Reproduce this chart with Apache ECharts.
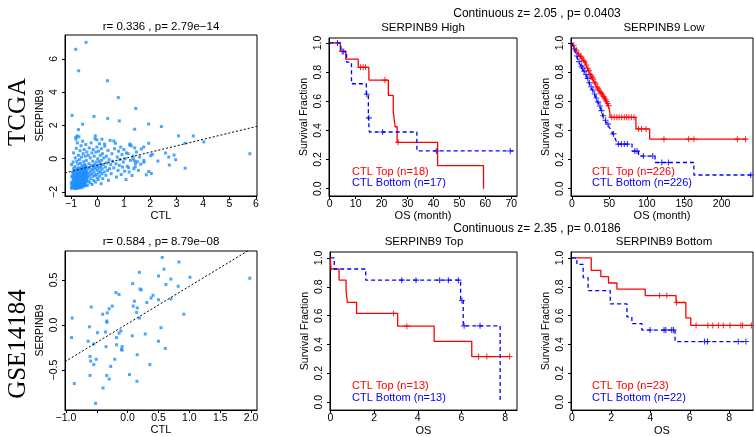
<!DOCTYPE html>
<html><head><meta charset="utf-8">
<script src="https://cdn.jsdelivr.net/npm/echarts@6/dist/echarts.min.js"></script>
<style>html,body{margin:0;padding:0;background:#fff}#c{width:754px;height:437px}</style>
</head><body><div id="c"></div>
<script>
// ---------------- DATA ----------------
// TCGA scatter: [CTL, SERPINB9]
const tcgaPoints = [
[-0.43,6.99],[-0.82,6.57],[-0.71,5.28],[0.38,4.68],[0.79,3.67],[1.45,3.02],[-0.96,2.6],[-0.13,2.54],[0.39,2.42],[0.83,2.27],
[-0.56,2.07],[1.94,2.08],[2.42,1.93],[1.41,1.77],[-0.72,1.75],[3.07,1.37],[3.63,1.37],[4.03,1.01],[3.32,0.93],[5.77,0.30],
[3.32,-0.57],[2.96,-0.06],[2.90,0.22],[2.70,0.10],[2.58,0.34],[2.29,-0.14],[2.72,-0.38],[2.08,0.26],[2.02,0.18],[1.94,0.93],
[1.94,-0.77],[2.04,-0.89],[1.85,-0.97],[1.31,-1.01],[1.22,0.82],[1.28,0.77],[1.41,0.65],[1.75,0.70],[1.66,0.58],[1.16,0.30],
[1.36,-0.02],[1.41,-0.14],[1.51,-0.18],[1.76,-0.10],[1.76,-0.21],[1.64,-0.33],[1.43,-0.49],[1.18,-0.54],[-0.77,1.37],[-0.81,1.17],
[-0.08,1.37],[-0.02,1.13],[0.17,1.17],[0.27,0.88],[0.62,1.07],[0.68,0.93],[1.24,0.88],
[-0.98,-1.72],[-0.95,-1.55],[-0.93,-1.38],[-0.91,-1.66],[-0.9,-1.2],[-0.88,-1.47],[-0.87,-0.95],[-0.86,-1.75],[-0.85,-1.31],[-0.84,-1.1],
[-0.83,-1.58],[-0.82,-0.78],[-0.81,-1.42],[-0.8,-1.68],[-0.79,-1.05],[-0.78,-1.25],[-0.77,-0.62],[-0.76,-1.52],[-0.75,-1.78],[-0.74,-0.9],
[-0.73,-1.35],[-0.72,-1.15],[-0.71,-1.62],[-0.7,-0.72],[-0.69,-1.45],[-0.68,-1.02],[-0.67,-1.28],[-0.66,-1.7],[-0.65,-0.55],[-0.64,-1.18],
[-0.63,-1.5],[-0.62,-0.85],[-0.61,-1.38],[-0.6,-1.08],[-0.59,-1.6],[-0.58,-0.68],[-0.57,-1.22],[-0.56,-0.95],[-0.55,-1.45],[-0.54,-0.48],
[-0.53,-1.12],[-0.52,-1.32],[-0.51,-0.78],[-0.5,-1.55],[-0.49,-0.98],[-0.48,-1.2],[-0.47,-0.62],[-0.46,-1.4],[-0.45,-0.88],[-0.44,-1.05],
[-0.43,-1.28],[-0.42,-0.5],[-0.41,-0.75],[-0.4,-1.15],
[-0.97,-1.05],[-0.96,-1.4],[-0.94,-0.82],[-0.92,-1.62],[-0.9,-0.6],[-0.89,-1.3],[-0.88,-1.0],[-0.86,-1.52],[-0.85,-0.7],[-0.84,-1.8],
[-0.83,-1.18],[-0.82,-1.35],[-0.8,-0.92],[-0.79,-1.5],[-0.78,-1.62],[-0.77,-1.08],[-0.76,-0.8],[-0.75,-1.3],[-0.74,-1.45],[-0.73,-0.55],
[-0.72,-1.7],[-0.71,-0.98],[-0.7,-1.22],[-0.69,-0.82],[-0.68,-1.58],[-0.67,-0.68],[-0.66,-1.1],[-0.65,-1.38],[-0.64,-0.92],[-0.63,-1.75],
[-0.62,-1.25],[-0.61,-0.6],[-0.6,-1.48],[-0.59,-0.88],[-0.58,-1.32],[-0.57,-1.02],[-0.56,-1.65],[-0.55,-0.75],[-0.54,-1.2],[-0.53,-0.58],
[-0.52,-1.48],[-0.51,-1.05],[-0.5,-0.85],[-0.49,-1.35],[-0.48,-0.7],[-0.47,-1.55],[-0.46,-1.0],[-0.45,-0.45],[-0.44,-1.22],[-0.43,-0.82],
[-0.42,-1.4],[-0.41,-0.95],
[-0.99,-1.5],[-0.97,-1.78],[-0.94,-1.12],[-0.93,-1.74],[-0.91,-0.9],[-0.89,-1.6],[-0.87,-1.22],[-0.85,-1.68],[-0.83,-0.98],[-0.81,-1.76],
[-0.79,-1.32],[-0.77,-1.72],[-0.75,-1.12],[-0.73,-1.6],[-0.71,-1.4],[-0.69,-1.72],[-0.67,-0.9],[-0.65,-1.55],[-0.63,-1.05],[-0.61,-1.62],
[-0.59,-1.2],[-0.57,-1.5],[-0.55,-1.7],[-0.53,-0.88],[-0.51,-1.6],[-0.49,-1.18],[-0.47,-0.8],[-0.45,-1.62],[-0.43,-1.0],[-0.41,-1.3],
[-0.98,-0.35],[-0.92,-0.2],[-0.9,0.35],[-0.86,-0.48],[-0.84,0.05],[-0.82,1.28],[-0.8,0.62],[-0.78,-0.15],[-0.76,0.95],[-0.74,-0.32],
[-0.72,0.2],[-0.7,1.32],[-0.68,-0.05],[-0.66,0.48],[-0.64,-0.28],[-0.62,0.78],[-0.6,0.1],[-0.58,-0.42],[-0.56,1.05],[-0.54,0.3],
[-0.52,-0.18],[-0.5,0.55],[-0.48,-0.35],[-0.46,0.15],[-0.44,0.85],[-0.42,-0.1],[-0.4,0.4],
[-0.38,-1.6],[-0.37,-0.6],[-0.36,-1.1],[-0.35,0.2],[-0.34,-0.85],[-0.33,-1.35],[-0.32,-0.3],[-0.31,0.65],[-0.3,-1.0],[-0.29,-0.55],
[-0.28,-1.45],[-0.27,0.05],[-0.26,-0.75],[-0.25,-1.2],[-0.24,0.95],[-0.23,-0.4],[-0.22,-0.9],[-0.21,0.35],[-0.2,-1.55],[-0.19,-0.65],
[-0.18,-0.15],[-0.17,-1.05],[-0.16,0.55],[-0.15,-0.5],[-0.14,-1.3],[-0.13,-0.8],[-0.12,0.15],[-0.11,-0.35],[-0.1,-1.0],[-0.09,1.2],
[-0.08,-0.6],[-0.07,-1.4],[-0.06,0.4],[-0.05,-0.2],[-0.04,-0.95],[-0.03,-0.5],[-0.02,0.7],[-0.01,-1.15],[0.0,-0.7],[0.01,0.0],
[0.02,-0.4],[0.03,-1.25],[0.04,0.45],[0.05,-0.85],[0.06,-0.15],[0.07,-0.55],[0.08,0.9],[0.09,-1.05],[0.1,-0.3],[0.11,0.2],
[0.12,-0.75],[0.13,-0.45],[0.14,-1.5],[0.15,0.6],[0.16,-0.1],[0.17,-0.9],[0.18,-0.6],[0.19,0.3],[0.2,-1.2],[0.22,-0.35],
[0.24,0.05],[0.26,-0.8],[0.28,0.75],[0.3,-0.5],[0.32,-1.0],[0.34,0.15],[0.36,-0.25],[0.38,-0.7],[0.4,0.5],[0.42,-1.3],
[0.44,-0.05],[0.46,-0.6],[0.48,1.1],[0.5,-0.35],
[0.52,-0.9],[0.55,0.3],[0.58,-0.15],[0.62,-0.55],[0.65,0.6],[0.7,-0.3],[0.72,-1.1],[0.75,0.1],[0.78,-0.7],[0.8,0.45],
[0.83,-0.4],[0.85,-0.05],[0.88,0.7],[0.9,-0.95],[0.93,0.25],[0.95,-0.5],[0.98,-0.2],[1.0,0.55],[1.03,-0.75],[1.05,0.0],
[1.08,-1.25],[1.1,0.35],[1.13,-0.45],[1.2,-0.8],[1.25,-0.1],[1.35,0.15],[1.38,-0.6],[1.44,-0.3],[1.48,0.4],[1.55,-0.7],[1.6,0.1]
];
const tcgaFit = [-0.38, 0.385];   // intercept, slope

// GSE14184 scatter: [CTL, SERPINB9]
const gsePoints = [
[0.56,0.75],[0.83,0.70],[0.59,0.62],[0.19,0.585],[0.50,0.545],[1.01,0.53],[0.70,0.51],[1.98,0.52],[0.08,0.46],[0.62,0.45],
[0.82,0.43],[0.20,0.40],[0.22,0.39],[-0.19,0.36],[-0.14,0.34],[0.41,0.33],[0.38,0.30],[0.50,0.28],[0.70,0.29],[0.11,0.265],
[0.31,0.25],[-0.25,0.21],[0.09,0.21],[-0.59,0.20],[0.155,0.19],[-0.30,0.18],[-0.33,0.135],[-0.405,0.12],[0.145,0.14],[0.91,0.12],
[-0.90,0.077],[0.19,0.077],[-0.34,0.044],[-0.335,0.03],[-0.62,-0.02],[0.54,-0.03],[-0.11,-0.065],[-0.36,-0.077],[-0.49,-0.085],[-0.14,-0.09],
[-0.91,-0.14],[0.075,-0.12],[0.285,-0.10],[-0.18,-0.14],[-0.64,-0.18],[-0.55,-0.21],[0.50,-0.18],[-0.18,-0.22],[-0.35,-0.24],[-0.09,-0.24],
[-0.10,-0.27],[-0.09,-0.28],[0.61,-0.26],[-0.61,-0.35],[0.155,-0.33],[-0.51,-0.38],[-0.21,-0.38],[-0.60,-0.40],[-0.55,-0.44],[0.36,-0.44],
[-0.275,-0.46],[-0.61,-0.56],[-0.34,-0.56],[0.03,-0.55],[-0.30,-0.60],[0.15,-0.625],[-0.865,-0.65],[-0.40,-0.70],[-0.52,-0.87]
];
const gseFit = [0.015, 0.415];

// Kaplan-Meier: steps [time, survival], end time, censor times
const highTopSteps = [[0,1],[4.1,0.944],[6.2,0.889],[11.0,0.833],[15.1,0.745],[22.6,0.64],[24.5,0.53],[25.2,0.425],[26.0,0.318],[41.6,0.159],[59.3,0]];
const highTopEnd = 59.3;
const highTopCens = [11.9,12.9,13.8,21.3,26.4];
const highBotSteps = [[0,1],[4.3,0.941],[6.5,0.868],[8.4,0.72],[14.1,0.648],[14.9,0.486],[15.3,0.389],[33.6,0.259]];
const highBotEnd = 71;
const highBotCens = [3.0,4.8,5.4,14.3,15.1,20.4,41.1,69.6];

const lowTopSteps = [[0,1],[0.8,0.992],[1.6,0.984],[2.5,0.976],[3.3,0.968],[4.4,0.96],[5.2,0.951],[6.3,0.942],[7.4,0.933],[8.6,0.924],
[9.7,0.917],[10.9,0.908],[12.3,0.899],[13.6,0.89],[14.8,0.881],[16.1,0.871],[17.5,0.861],[18.6,0.849],[19.7,0.836],[20.8,0.823],
[21.9,0.81],[23.0,0.797],[24.1,0.785],[25.2,0.774],[26.4,0.763],[27.5,0.752],[28.7,0.741],[29.9,0.73],[31.0,0.72],[32.1,0.708],
[33.3,0.697],[34.4,0.686],[35.6,0.676],[36.9,0.665],[38.3,0.654],[39.8,0.643],[41.3,0.632],[42.9,0.621],[44.4,0.61],[45.8,0.598],
[47.2,0.585],[48.4,0.57],[49.6,0.552],[50.4,0.53],[51.1,0.49],[85.5,0.41],[103.8,0.34]];
const lowTopEnd = 233;
const lowTopCens = [2.2,5.8,9.1,11.5,13.1,15.3,17.0,19.2,21.4,22.6,24.6,26.0,27.1,28.2,30.5,31.6,33.8,35.1,36.2,37.8,39.2,40.9,42.4,
43.6,45.0,46.3,47.6,48.9,53,56.5,60,63,66.5,70,73,76,79.5,83,89,93,99,123,156,163,221,232];
const lowBotSteps = [[0,1],[0.6,0.99],[1.3,0.98],[2.0,0.97],[2.8,0.96],[3.6,0.948],[4.5,0.935],[5.3,0.922],[6.2,0.91],[7.1,0.897],
[8.0,0.884],[9.0,0.872],[10.0,0.861],[11.1,0.85],[12.3,0.84],[13.5,0.829],[14.6,0.818],[15.8,0.807],[17.0,0.796],[18.2,0.784],
[19.3,0.771],[20.5,0.757],[21.6,0.742],[22.7,0.727],[23.8,0.712],[24.9,0.699],[26.1,0.688],[27.3,0.677],[28.5,0.663],[29.7,0.65],
[30.9,0.638],[32.0,0.622],[33.2,0.607],[34.4,0.594],[35.6,0.581],[36.8,0.567],[38.0,0.553],[39.1,0.536],[40.2,0.518],[41.3,0.501],
[42.5,0.484],[44.0,0.47],[45.6,0.456],[47.2,0.443],[49.0,0.428],[51.0,0.413],[52.8,0.395],[54.6,0.376],[56.5,0.357],[58.4,0.337],
[60.2,0.306],[80.3,0.258],[89.0,0.224],[111.0,0.18],[163.0,0.094]];
const lowBotEnd = 240;
const lowBotCens = [3.0,6.7,9.5,12.8,14.1,16.4,18.8,21.1,23.2,25.5,28.0,30.3,32.6,35.0,37.4,39.6,41.8,44.8,48.1,55.5,62,66,70,74,84,87,95.5,108,120,129,239];

const topTopSteps = [[0,1],[0.03,0.923],[0.4,0.846],[0.72,0.769],[0.78,0.692],[1.2,0.615],[3.08,0.527],[4.75,0.422],[6.47,0.316]];
const topTopEnd = 8.2;
const topTopCens = [2.89,3.5,6.78,7.16,8.2];
const topBotSteps = [[0,1],[0.18,0.923],[1.62,0.846],[5.96,0.705],[6.08,0.529],[7.77,0]];
const topBotEnd = 7.77;
const topBotCens = [3.27,3.92,5.0,5.4,5.86,6.02,6.12,6.85];

const botTopSteps = [[0,1],[0.98,0.913],[1.47,0.87],[1.86,0.826],[2.29,0.783],[3.73,0.739],[5.3,0.691],[5.8,0.584],[6.05,0.532]];
const botTopEnd = 9.2;
const botTopCens = [4.46,4.83,5.33,6.32,6.92,7.17,7.46,7.71,8.05,8.6,8.69,9.14];
const botBotSteps = [[0,1],[0.25,0.955],[0.57,0.864],[0.82,0.773],[1.95,0.682],[2.8,0.591],[3.05,0.545],[3.56,0.5],[5.25,0.42]];
const botBotEnd = 8.9;
const botBotCens = [3.98,4.69,4.78,5.08,5.17,6.75,6.9,8.47,8.86];

// Tick values
const tcgaXTicks = [-1,0,1,2,3,4,5,6];
const tcgaYTicks = [-2,0,2,4,6];
const gseXTicks = [-1,-0.5,0,0.5,1,1.5,2];
const gseXLabels = [-1,0,0.5,1,1.5,2];
const gseYTicks = [-0.5,0,0.5];
const survTicks = [0,0.2,0.4,0.6,0.8,1.0];
const highXTicks = [0,10,20,30,40,50,60,70];
const lowXTicks = [0,50,100,150,200];
const osXTicks = [0,2,4,6,8];

// Text
const titles = ['r= 0.336 , p= 2.79e\u221214','SERPINB9 High','SERPINB9 Low','r= 0.584 , p= 8.79e\u221208','SERPINB9 Top','SERPINB9 Bottom'];
const zTexts = ['Continuous z= 2.05 , p= 0.0403','Continuous z= 2.35 , p= 0.0186'];
const legendTexts = [['CTL Top (n=18)','CTL Bottom (n=17)'],['CTL Top (n=226)','CTL Bottom (n=226)'],['CTL Top (n=13)','CTL Bottom (n=13)'],['CTL Top (n=23)','CTL Bottom (n=22)']];
const rowLabels = ['TCGA','GSE14184'];

// ---------------- CHART ----------------
const SANS = "'Liberation Sans', Arial, sans-serif";
const SERIF = "'Liberation Serif', 'Times New Roman', serif";
const RED = '#ff0000', BLUE = '#0000ff', PT = '#1e90ff';

const grids = [
  {left:65, top:35, width:192, height:161},
  {left:329, top:38, width:188, height:158},
  {left:571, top:38, width:182, height:158},
  {left:65, top:251, width:192, height:159},
  {left:330, top:252, width:187, height:160},
  {left:571, top:252, width:182, height:160}
];
const ranges = [
  {x:[-1.227,6.04], y:[-2.24,7.43]},
  {x:[-0.27,72.2], y:[-0.05,1.034]},
  {x:[-1.3,242], y:[-0.05,1.034]},
  {x:[-1.016,2.097], y:[-0.944,0.822]},
  {x:[-0.015,8.54], y:[-0.055,1.041]},
  {x:[-0.05,9.22], y:[-0.055,1.041]}
];
function fmt(d){ return v => (v < 0 ? '\u2212' : '') + Math.abs(v).toFixed(d); }

function xAx(i, ticks, labels, f, name){
  return {type:'value', gridIndex:i, min:ranges[i].x[0], max:ranges[i].x[1],
    name:name, nameLocation:'middle', nameGap:13,
    nameTextStyle:{fontFamily:SANS, fontSize:11, color:'#000'},
    axisLine:{show:true, onZero:false, lineStyle:{color:'#000', width:1}},
    splitLine:{show:false},
    axisTick:{show:true, length:3, customValues:ticks, lineStyle:{color:'#000'}},
    axisLabel:{customValues:labels, formatter:f, margin:3, fontFamily:SANS, fontSize:10.5, color:'#000', hideOverlap:false}
  };
}
function yAx(i, ticks, f, name){
  return {type:'value', gridIndex:i, min:ranges[i].y[0], max:ranges[i].y[1],
    name:name, nameLocation:'middle', nameGap:19,
    nameTextStyle:{fontFamily:SANS, fontSize:10.5, color:'#000'},
    axisLine:{show:true, onZero:false, lineStyle:{color:'#000', width:1}},
    splitLine:{show:false},
    axisTick:{show:true, length:3, customValues:ticks, lineStyle:{color:'#000'}},
    axisLabel:{customValues:ticks, formatter:f, rotate:90, margin:5, fontFamily:SANS, fontSize:10.5, color:'#000', hideOverlap:false}
  };
}

const xAxes = [
  xAx(0, tcgaXTicks, tcgaXTicks, fmt(0), 'CTL'),
  xAx(1, highXTicks, highXTicks, fmt(0), 'OS (month)'),
  xAx(2, lowXTicks, lowXTicks, fmt(0), 'OS (month)'),
  xAx(3, gseXTicks, gseXLabels, fmt(1), 'CTL'),
  xAx(4, osXTicks, osXTicks, fmt(0), 'OS'),
  xAx(5, osXTicks, osXTicks, fmt(0), 'OS')
];
const yAxes = [
  yAx(0, tcgaYTicks, fmt(0), 'SERPINB9'),
  yAx(1, survTicks, fmt(1), 'Survival Fraction'),
  yAx(2, survTicks, fmt(1), 'Survival Fraction'),
  yAx(3, gseYTicks, fmt(1), 'SERPINB9'),
  yAx(4, survTicks, fmt(1), 'Survival Fraction'),
  yAx(5, survTicks, fmt(1), 'Survival Fraction')
];

const series = [];
function scatterPanel(i, pts, fit){
  series.push({type:'scatter', xAxisIndex:i, yAxisIndex:i, data:pts, symbol:'rect', symbolSize:3,
    itemStyle:{color:PT}, silent:true});
  const x0 = ranges[i].x[0], x1 = ranges[i].x[1];
  series.push({type:'line', xAxisIndex:i, yAxisIndex:i, data:[[x0, fit[0]+fit[1]*x0],[x1, fit[0]+fit[1]*x1]],
    symbol:'none', clip:true, lineStyle:{color:'#000', width:1, type:[2,2]}, silent:true, z:3});
}
const PLUS = 'path://M-0.18,-1 L0.18,-1 L0.18,-0.18 L1,-0.18 L1,0.18 L0.18,0.18 L0.18,1 L-0.18,1 L-0.18,0.18 L-1,0.18 L-1,-0.18 L-0.18,-0.18 Z';
function survAt(steps, t){ let s = steps[0][1]; for (const p of steps){ if (p[0] <= t) s = p[1]; } return s; }
function kmCurve(i, steps, end, cens, color, dashed){
  const data = steps.slice();
  if (end > steps[steps.length-1][0]) data.push([end, steps[steps.length-1][1]]);
  series.push({type:'line', xAxisIndex:i, yAxisIndex:i, data:data, step:'end', symbol:'none', clip:true,
    lineStyle:{color:color, width:1.3, type: dashed ? [4,3] : 'solid'}, silent:true});
  series.push({type:'scatter', xAxisIndex:i, yAxisIndex:i, data:cens.map(t => [t, survAt(steps, t)]),
    symbol:PLUS, symbolSize:6, itemStyle:{color:color}, silent:true});
}
scatterPanel(0, tcgaPoints, tcgaFit);
kmCurve(1, highTopSteps, highTopEnd, highTopCens, RED, false);
kmCurve(1, highBotSteps, highBotEnd, highBotCens, BLUE, true);
kmCurve(2, lowTopSteps, lowTopEnd, lowTopCens, RED, false);
kmCurve(2, lowBotSteps, lowBotEnd, lowBotCens, BLUE, true);
scatterPanel(3, gsePoints, gseFit);
kmCurve(4, topTopSteps, topTopEnd, topTopCens, RED, false);
kmCurve(4, topBotSteps, topBotEnd, topBotCens, BLUE, true);
kmCurve(5, botTopSteps, botTopEnd, botTopCens, RED, false);
kmCurve(5, botBotSteps, botBotEnd, botBotCens, BLUE, true);

const graphic = [];
function txt(x, y, s, size, color, align, family, rot){
  graphic.push({type:'text', x:x, y:y, rotation:rot||0, silent:true,
    style:{text:s, fill:color||'#000', font: size + 'px ' + (family||SANS), textAlign:align||'center', textVerticalAlign:'middle'}});
}
const titlePos = [[161,27],[423,28],[664,28],[161,242],[424,242],[664,242]];
titles.forEach((t,k) => txt(titlePos[k][0], titlePos[k][1], t, 11.5));
txt(537, 14, zTexts[0], 12);
txt(537, 229, zTexts[1], 12);
const legPos = [[352,172,183],[592,172,183],[352,386,398],[592,386,398]];
legendTexts.forEach((l,k) => { txt(legPos[k][0], legPos[k][1], l[0], 11, RED, 'left'); txt(legPos[k][0], legPos[k][2], l[1], 11, BLUE, 'left'); });
txt(18, 112, rowLabels[0], 25, '#000', 'center', SERIF, Math.PI/2);
txt(18, 344, rowLabels[1], 25, '#000', 'center', SERIF, Math.PI/2);

const chart = echarts.init(document.getElementById('c'), null, {renderer:'canvas'});
chart.setOption({
  animation:false,
  backgroundColor:'#fff',
  grid: grids.map(g => Object.assign({show:true, borderColor:'#000', borderWidth:1, backgroundColor:'transparent'}, g)),
  xAxis: xAxes,
  yAxis: yAxes,
  series: series,
  graphic: graphic
});
</script></body></html>
